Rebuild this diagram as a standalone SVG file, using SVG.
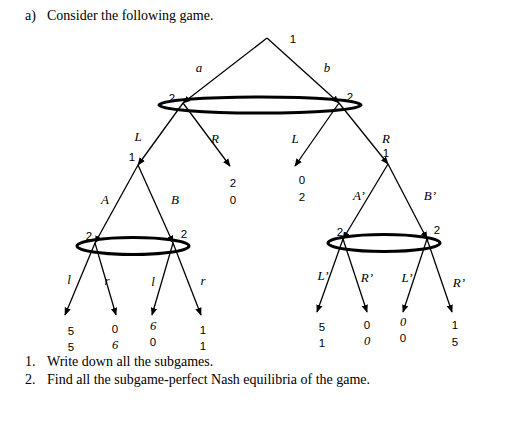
<svg xmlns="http://www.w3.org/2000/svg" width="531" height="442" viewBox="0 0 531 442">
<defs>
<marker id="arr" viewBox="0 0 10 10" refX="9" refY="5" markerWidth="8" markerHeight="8" markerUnits="userSpaceOnUse" orient="auto">
<path d="M0,1 L10,5 L0,9 Z" fill="#000"/>
</marker>
</defs>
<style>
.e{stroke:#000;stroke-width:1.3;fill:none;marker-end:url(#arr)}
.iset{stroke:#000;stroke-width:3;fill:none}
.t{font-family:"Liberation Serif","Times New Roman",serif;font-size:14px;fill:#000}
.lab{font-family:"Liberation Serif","Times New Roman",serif;font-style:italic;font-size:13px;fill:#000;text-anchor:middle}
.num{font-family:"Liberation Sans",Arial,sans-serif;font-size:11.5px;fill:#000;text-anchor:middle}
.inum{font-family:"Liberation Serif","Times New Roman",serif;font-style:italic;font-size:12.5px;fill:#000;text-anchor:middle}
</style>
<rect width="531" height="442" fill="#fff"/>
<text class="t" x="25" y="20">a)</text>
<text class="t" x="47" y="20">Consider the following game.</text>

<g id="connectors">
<line class="e" x1="267" y1="38" x2="183" y2="103"/>
<line class="e" x1="267" y1="38" x2="339" y2="103"/>
<line class="e" x1="183" y1="103" x2="138" y2="165"/>
<line class="e" x1="183" y1="103" x2="230" y2="166"/>
<line class="e" x1="339" y1="103" x2="295" y2="166"/>
<line class="e" x1="339" y1="103" x2="388" y2="164"/>
<line class="e" x1="138" y1="165" x2="95" y2="243"/>
<line class="e" x1="138" y1="165" x2="173" y2="243"/>
<line class="e" x1="388" y1="164" x2="343" y2="239"/>
<line class="e" x1="388" y1="164" x2="427" y2="239"/>
<line class="e" x1="95" y1="243" x2="65" y2="315"/>
<line class="e" x1="95" y1="243" x2="116" y2="315"/>
<line class="e" x1="173" y1="243" x2="152" y2="315"/>
<line class="e" x1="173" y1="243" x2="201" y2="315"/>
<line class="e" x1="343" y1="239" x2="317" y2="312"/>
<line class="e" x1="343" y1="239" x2="367" y2="312"/>
<line class="e" x1="427" y1="239" x2="403" y2="312"/>
<line class="e" x1="427" y1="239" x2="452" y2="312"/>
</g>

<g id="root">
<text class="num" x="293" y="43">1</text>
<text class="lab" x="199" y="72">a</text>
<text class="lab" x="327" y="72">b</text>
</g>

<g id="iset-top">
<ellipse class="iset" cx="260" cy="105" rx="101" ry="8"/>
<text class="num" x="172" y="102">2</text>
<text class="num" x="350" y="101">2</text>
<text class="lab" x="138" y="141">L</text>
<text class="lab" x="215" y="143">R</text>
<text class="lab" x="295" y="143">L</text>
<text class="lab" x="386" y="143">R</text>
</g>

<g id="payoff-a-R">
<text class="num" x="233" y="187">2</text>
<text class="num" x="233" y="204">0</text>
</g>
<g id="payoff-b-L">
<text class="num" x="302" y="184">0</text>
<text class="num" x="302" y="201">2</text>
</g>

<g id="node-1-left">
<text class="num" x="132" y="161">1</text>
<text class="lab" x="105" y="204">A</text>
<text class="lab" x="175" y="204">B</text>
</g>
<g id="node-1-right">
<text class="num" x="386" y="157">1</text>
<text class="lab" x="359" y="200">A’</text>
<text class="lab" x="430" y="200">B’</text>
</g>

<g id="iset-left">
<ellipse class="iset" cx="133" cy="246" rx="56" ry="8.5"/>
<text class="num" x="89" y="240">2</text>
<text class="num" x="184" y="238">2</text>
<text class="lab" x="69" y="284">l</text>
<text class="lab" x="107" y="285">r</text>
<text class="lab" x="153" y="286">l</text>
<text class="lab" x="203" y="285">r</text>
</g>
<g id="iset-right">
<ellipse class="iset" cx="384" cy="243" rx="56" ry="8.5"/>
<text class="num" x="340" y="236">2</text>
<text class="num" x="437" y="234">2</text>
<text class="lab" x="323" y="280">L’</text>
<text class="lab" x="367" y="282">R’</text>
<text class="lab" x="407" y="282">L’</text>
<text class="lab" x="459" y="287">R’</text>
</g>

<g id="payoffs-left">
<text class="num" x="71" y="335">5</text>
<text class="num" x="71" y="351">5</text>
<text class="num" x="115" y="333">0</text>
<text class="inum" x="115" y="349">6</text>
<text class="inum" x="153" y="330">6</text>
<text class="num" x="153" y="346">0</text>
<text class="num" x="203" y="334">1</text>
<text class="num" x="203" y="350">1</text>
</g>
<g id="payoffs-right">
<text class="num" x="322" y="331">5</text>
<text class="num" x="322" y="347">1</text>
<text class="num" x="367" y="329">0</text>
<text class="inum" x="367" y="345">0</text>
<text class="inum" x="403" y="326">0</text>
<text class="num" x="403" y="342">0</text>
<text class="num" x="455" y="329">1</text>
<text class="num" x="455" y="346">5</text>
</g>

<text class="t" x="25" y="366">1.</text>
<text class="t" x="47" y="366">Write down all the subgames.</text>
<text class="t" x="25" y="384">2.</text>
<text class="t" x="47" y="384">Find all the subgame-perfect Nash equilibria of the game.</text>
</svg>
